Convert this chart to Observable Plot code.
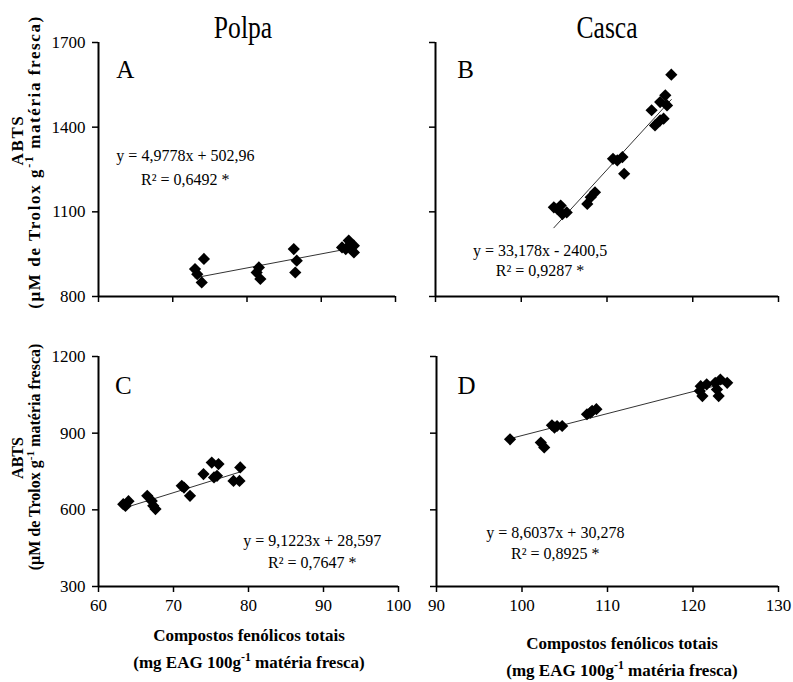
<!DOCTYPE html>
<html>
<head>
<meta charset="utf-8">
<script src="https://cdn.jsdelivr.net/npm/d3@7"></script>
<script src="https://cdn.jsdelivr.net/npm/@observablehq/plot@0.6"></script>
<style>
  body { margin: 0; background: white; }
  #wrap { position: relative; width: 793px; height: 682px; overflow: hidden; font-family: "Liberation Serif", "Times New Roman", serif; color: black; }
  #wrap svg { position: absolute; left: 0; top: 0; }
  .lbl { position: absolute; white-space: nowrap; transform: translate(-50%, -50%); font-family: "Liberation Serif", "Times New Roman", serif; }
  .ttl { font-size: 32px; transform: translate(-50%, -50%) scaleX(0.8); }
  .ax { font-weight: bold; font-size: 17px; text-align: center; line-height: 27px; }
  .yax { font-weight: bold; font-size: 16px; text-align: center; transform: translate(-50%, -50%) rotate(-90deg); }
  .wide { letter-spacing: 1.6px; font-size: 17px; }
  sup { font-size: 0.7em; line-height: 0; vertical-align: 0.55em; }
</style>
</head>
<body>
<div id="wrap">
  <div class="lbl ttl" style="left:243px; top:27px;">Polpa</div>
  <div class="lbl ttl" style="left:607px; top:27px;">Casca</div>
  <div class="lbl yax wide" style="left:18px; top:140px;">ABTS</div>
  <div class="lbl yax wide" style="left:35px; top:162px;">(µM de Trolox g<sup>-1</sup> matéria fresca)</div>
  <div class="lbl yax" style="left:18px; top:458px;">ABTS</div>
  <div class="lbl yax" style="left:35px; top:457px;">(µM de Trolox g<sup>-1</sup> matéria fresca)</div>
  <div class="lbl ax" style="left:249px; top:649px;">Compostos fenólicos totais<br>(mg EAG 100g<sup>-1</sup> matéria fresca)</div>
  <div class="lbl ax" style="left:622px; top:657px;">Compostos fenólicos totais<br>(mg EAG 100g<sup>-1</sup> matéria fresca)</div>
</div>
<script>
// ---- Data ----
const panelLetters = ["A", "B", "C", "D"];
const xTicksPolpa = [60, 70, 80, 90, 100];
const xTicksCasca = [90, 100, 110, 120, 130];
const yTicksTop = [800, 1100, 1400, 1700];
const yTicksBottom = [300, 600, 900, 1200];

const aX = [74.2, 73.0, 73.3, 73.9, 81.6, 81.8, 81.3, 86.3, 86.7, 86.5, 92.8, 93.7, 94.4, 94.4, 93.3, 94.0];
const aY = [933, 897, 879, 850, 903, 862, 885, 968, 927, 885, 974, 998, 980, 956, 968, 986];

const bX = [117.5, 116.8, 116.2, 117.0, 115.2, 116.2, 115.6, 116.6, 110.7, 111.8, 111.2, 112.0, 108.6, 108.1, 107.7, 104.2, 104.8, 105.3, 103.8, 104.6];
const bY = [1586, 1513, 1489, 1477, 1460, 1424, 1406, 1430, 1288, 1294, 1282, 1235, 1169, 1152, 1128, 1110, 1092, 1098, 1116, 1122];

const cX = [63.3, 64.0, 63.6, 74.0, 75.1, 76.0, 75.4, 75.8, 78.9, 78.0, 78.8, 71.4, 72.2, 71.1, 66.5, 67.3, 67.6, 67.1];
const cY = [622, 634, 615, 740, 785, 779, 727, 733, 766, 713, 713, 687, 655, 694, 655, 616, 603, 635];

const dX = [98.6, 102.2, 102.6, 103.5, 104.1, 104.7, 103.8, 107.6, 108.2, 108.7, 108.0, 120.9, 121.1, 121.6, 122.6, 123.2, 124.0, 123.0, 122.8, 120.8];
const dY = [876, 863, 844, 931, 928, 928, 922, 974, 987, 994, 980, 1084, 1045, 1091, 1097, 1110, 1097, 1045, 1071, 1065];

const slopes = [4.9778, 33.178, 9.1223, 8.6037];
const intercepts = [502.96, -2400.5, 28.597, 30.278];
const equations = ["y = 4,9778x + 502,96", "y = 33,178x - 2400,5", "y = 9,1223x + 28,597", "y = 8,6037x + 30,278"];
const r2Labels = ["R² = 0,6492 *", "R² = 0,9287 *", "R² = 0,7647 *", "R² = 0,8925 *"];

// annotation anchors (data units)
const letterPos = [[63.6, 1601], [93.5, 1601], [63.3, 1086], [93.5, 1086]];
const eqPos = [[71.7, 1300, 1213], [102.2, 963, 892], [88.5, 480, 394], [103.9, 511, 429]];

// ---- Layout ----
const W = 793, H = 682;
const serif = "Liberation Serif, Times New Roman, serif";
const frames = [
  {left: 98, right: 395, top: 42, bottom: 296},
  {left: 435, right: 778, top: 42, bottom: 296},
  {left: 98, right: 398, top: 356, bottom: 586},
  {left: 436, right: 778, top: 356, bottom: 586}
];
const xs = [aX, bX, cX, dX];
const ys = [aY, bY, cY, dY];
const xTicksList = [xTicksPolpa, xTicksCasca, xTicksPolpa, xTicksCasca];
const yTicksList = [yTicksTop, yTicksTop, yTicksBottom, yTicksBottom];
const showXLabels = [false, false, true, true];
const showYLabels = [true, false, true, false];

const wrap = document.getElementById("wrap");

for (let i = 0; i < 4; i++) {
  const f = frames[i];
  const xT = xTicksList[i], yT = yTicksList[i];
  const pts = xs[i].map((x, j) => ({x, y: ys[i][j]}));
  const [x0, x1] = d3.extent(xs[i]);
  const reg = [x0, x1].map(x => ({x, y: slopes[i] * x + intercepts[i]}));
  const svg = Plot.plot({
    width: W, height: H,
    marginLeft: f.left, marginRight: W - f.right, marginTop: f.top, marginBottom: H - f.bottom,
    x: {domain: [xT[0], xT[xT.length - 1]], label: null},
    y: {domain: [yT[0], yT[yT.length - 1]], label: null},
    style: {background: "transparent", fontFamily: serif, fontSize: "17px", color: "black", overflow: "visible"},
    marks: [
      Plot.axisX({ticks: xT, tickSize: 6, tickPadding: 6, strokeWidth: 1.5, label: null, fontFamily: serif,
        tickFormat: showXLabels[i] ? (d => String(d)) : (() => "")}),
      Plot.axisY({ticks: yT, tickSize: 6, tickPadding: 7, strokeWidth: 1.5, label: null, fontFamily: serif,
        tickFormat: showYLabels[i] ? (d => String(d)) : (() => "")}),
      Plot.ruleX([xT[0]], {stroke: "black", strokeWidth: 2}),
      Plot.ruleY([yT[0]], {stroke: "black", strokeWidth: 2}),
      Plot.line(reg, {x: "x", y: "y", stroke: "#333", strokeWidth: 1}),
      Plot.dot(pts, {x: "x", y: "y", symbol: "diamond2", r: 5.5, fill: "black", stroke: "none"}),
      Plot.text([panelLetters[i]], {x: () => letterPos[i][0], y: () => letterPos[i][1], fontSize: 25, fontFamily: serif, textAnchor: "middle"}),
      Plot.text([equations[i]], {x: () => eqPos[i][0], y: () => eqPos[i][1], fontSize: 16, fontFamily: serif, textAnchor: "middle"}),
      Plot.text([r2Labels[i]], {x: () => eqPos[i][0], y: () => eqPos[i][2], fontSize: 16, fontFamily: serif, textAnchor: "middle"})
    ]
  });
  wrap.appendChild(svg);
}
</script>
</body>
</html>
